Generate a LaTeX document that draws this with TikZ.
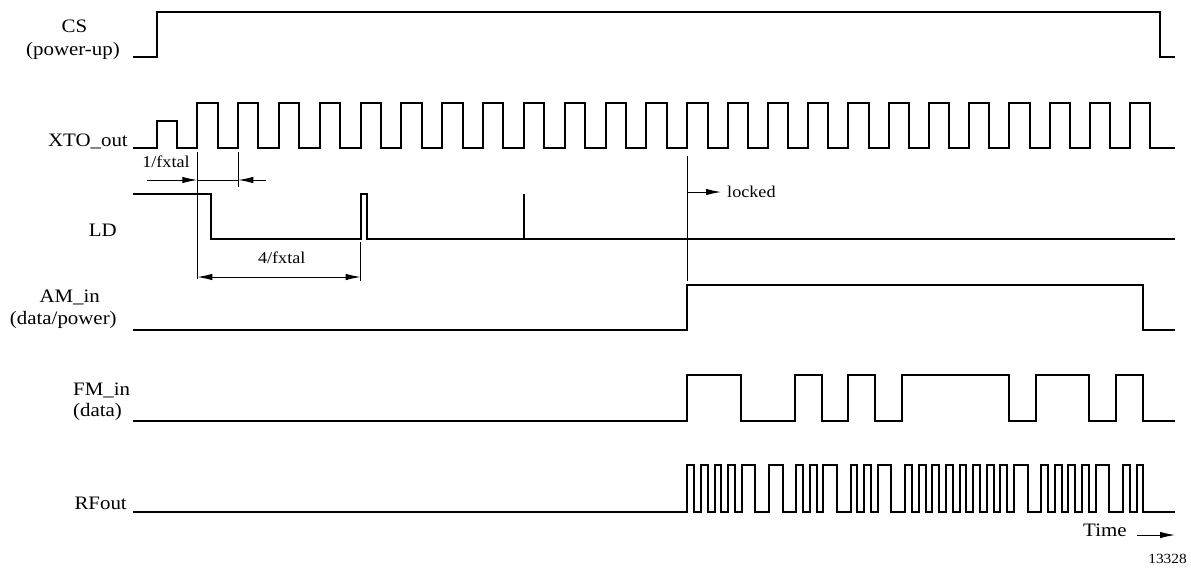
\documentclass[tikz,border=0pt]{standalone}
\usepackage{fontspec}
\setmainfont{Liberation Serif}[FakeStretch=1.1]
\usetikzlibrary{arrows.meta}
\begin{document}
\begin{tikzpicture}[x=1pt,y=-1pt,
  wave/.style={line width=2pt},
  thinline/.style={line width=1pt},
  lbl/.style={font=\fontsize{19}{21}\selectfont, inner sep=0pt},
  smalllbl/.style={font=\fontsize{16.5}{18}\selectfont, inner sep=0pt},
  tip/.style={-{Latex[length=15pt,width=6.5pt]}},
  tips/.style={{Latex[length=15pt,width=6.5pt]}-{Latex[length=15pt,width=6.5pt]}}
]
\useasboundingbox (0,0) rectangle (1191,568);

% labels
\node[lbl, anchor=base] (csA) at (74.5,32) {CS};
\node[lbl, anchor=base] (csB) at (73,55) {(power-up)};
\node[lbl, anchor=base east] (xto) at (128,146) {XTO\_out};
\node[lbl, anchor=base east] (ld) at (117,236) {LD};
\node[lbl, anchor=base] (amA) at (69.7,302) {AM\_in};
\node[lbl, anchor=base] (amB) at (63.3,324) {(data/power)};
\node[lbl, anchor=base west] (fmA) at (73,395) {FM\_in};
\node[lbl, anchor=base west] (fmB) at (73,416) {(data)};
\node[lbl, anchor=base east] (rf) at (127,509) {RFout};

% CS
\draw[wave] (133,57) -- (156.7,57) -- (156.7,12.3) -- (1160,12.3) -- (1160,57) -- (1175,57);

% XTO_out
\draw[wave] (133,148) -- (156.7,148) -- (156.7,120.7) -- (177.3,120.7) -- (177.3,148)
  \foreach \k in {0,...,23}{ -- ({197.3+40.83*min(\k,12)+40.25*max(\k-12,0)},148) -- ++(0,-45.3) -- ++(20.3,0) -- ++(0,45.3)}
  -- (1175,148);

% LD
\draw[wave] (133,194) -- (210.7,194) -- (210.7,239) -- (360.7,239) -- (360.7,194) -- (367.3,194) -- (367.3,239) -- (1175,239);
\draw[wave] (524,239) -- (524,194);

% AM_in
\draw[wave] (133,330) -- (687.3,330) -- (687.3,285) -- (1143.3,285) -- (1143.3,330) -- (1175,330);

% FM_in
\draw[wave] (133,420.7) -- (687.3,420.7) |- (740.7,375) |- (795,420.7) |- (821.7,375) |- (847.7,420.7)
  |- (875,375) |- (901.7,420.7) |- (1009.3,375) |- (1036,420.7) |- (1089.3,375) |- (1116,420.7)
  |- (1143.3,375) |- (1175,420.7);

% RFout
\draw[wave] (133,511.7) -- (687.3,511.7)
  \foreach \a/\b in {694.11/700.91, 707.72/714.52, 721.33/728.14, 734.94/741.75, 755.36/768.97,
    782.58/796.20, 803.00/809.81, 816.61/823.42, 837.03/850.64, 857.45/864.26, 871.06/877.87,
    891.48/905.09, 911.90/918.70, 925.51/932.32, 939.12/945.93, 952.73/959.54, 966.35/973.15,
    979.96/986.76, 993.57/1000.38, 1007.18/1013.99, 1027.60/1041.21, 1048.02/1054.82,
    1061.63/1068.44, 1075.24/1082.05, 1088.85/1095.66, 1109.27/1122.88, 1129.69/1136.49}
    { |- (\a,465) |- (\b,511.7) }
  |- (1143.3,465) |- (1175,511.7);

% 1/fxtal dimension
\coordinate (e1t) at (197.3,152);
\coordinate (e1b) at (197.3,279);
\coordinate (e2t) at (238.3,152);
\coordinate (e2b) at (238.3,187);
\coordinate (a1s) at (146.7,180);
\coordinate (a1e) at (197.3,180);
\coordinate (a2s) at (265.7,180);
\coordinate (a2e) at (238.3,180);
\draw[thinline] (e1t) -- (e1b);
\draw[thinline] (e2t) -- (e2b);
\draw[thinline, tip] (a1s) -- (a1e);
\draw[thinline, tip] (a2s) -- (a2e);
\draw[thinline] (a1e) -- (a2e);
\node[smalllbl, anchor=base] (f1) at (166,167) {1/fxtal};

% 4/fxtal dimension
\coordinate (e3t) at (360.7,242);
\coordinate (e3b) at (360.7,281);
\coordinate (b1) at (197.3,277);
\coordinate (b2) at (360.7,277);
\draw[thinline] (e3t) -- (e3b);
\draw[thinline, tips] (b1) -- (b2);
\node[smalllbl, anchor=base] (f4) at (281.7,263.3) {4/fxtal};

% locked
\coordinate (lt) at (687.3,156);
\coordinate (lb) at (687.3,281);
\coordinate (ls) at (687.3,192);
\coordinate (le) at (721,192);
\draw[thinline] (lt) -- (lb);
\draw[thinline, tip] (ls) -- (le);
\node[smalllbl, anchor=base west] (lk) at (727,197) {locked};

% time
\node[lbl, anchor=base west] (time) at (1083,536.7) {Time};
\coordinate (ts) at (1137,535);
\coordinate (te) at (1175,535);
\draw[thinline, tip] (ts) -- (te);
\node[font=\fontsize{14}{16}\selectfont, inner sep=0pt, anchor=base east] (num) at (1187,563) {13328};
\end{tikzpicture}
\end{document}
